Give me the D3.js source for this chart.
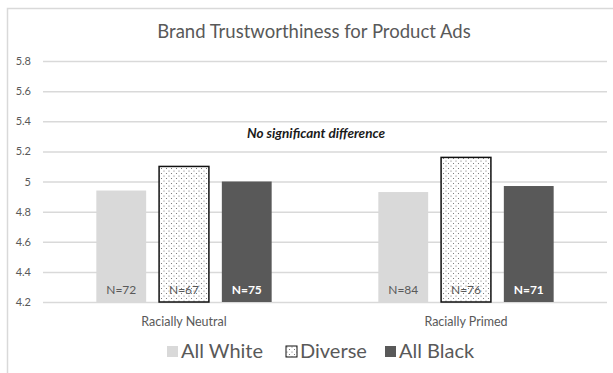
<!DOCTYPE html>
<html>
<head>
<meta charset="utf-8">
<script src="https://cdn.jsdelivr.net/npm/d3@7"></script>
<style>
  body { margin: 0; background: #fff; }
  text { font-family: Lato, "Open Sans", sans-serif; fill: #595959; }
</style>
</head>
<body>
<div id="content"></div>
<script>
let categories = ["Racially Neutral", "Racially Primed"];
let groups = ["All White", "Diverse", "All Black"];
let neutralValues = [4.94, 5.10, 5.00];
let primedValues = [4.93, 5.16, 4.97];
let neutralN = ["N=72", "N=67", "N=75"];
let primedN = ["N=84", "N=76", "N=71"];
let yTicks = [4.2, 4.4, 4.6, 4.8, 5, 5.2, 5.4, 5.6, 5.8];

let rows = [
    {cat: categories[0], values: neutralValues, ns: neutralN},
    {cat: categories[1], values: primedValues, ns: primedN}
];

const width = 613, height = 373;
const plotLeft = 43, plotRight = 607, plotTop = 61, plotBottom = 302;

let svg = d3.select("#content")
    .append("svg")
    .attr("width", width)
    .attr("height", height);

// dotted pattern for the "Diverse" bars
let defs = svg.append("defs");
let pat = defs.append("pattern")
    .attr("id", "dots")
    .attr("patternUnits", "userSpaceOnUse")
    .attr("width", 5)
    .attr("height", 5);
pat.append("rect").attr("width", 5).attr("height", 5).attr("fill", "#fff");
pat.append("circle").attr("cx", 1).attr("cy", 1).attr("r", 0.55).attr("fill", "#666");
pat.append("circle").attr("cx", 3.5).attr("cy", 3.5).attr("r", 0.55).attr("fill", "#666");

// chart frame
svg.append("path")
    .attr("d", "M7.5," + height + " V8.5 H" + width)
    .attr("fill", "none")
    .attr("stroke", "#d9d9d9")
    .attr("stroke-width", 1.5);

let color = d3.scaleOrdinal().domain(groups).range(["#d9d9d9", "url(#dots)", "#595959"]);

const x = d3.scaleBand().domain(categories).range([plotLeft, plotRight]);
const x1 = d3.scaleBand().domain(groups).range([0, x.bandwidth()]).paddingInner(0.206).paddingOuter(0.85);
const y = d3.scaleLinear().domain([4.2, 5.8]).range([plotBottom, plotTop]);

// grid
let yAxis = d3.axisLeft(y)
    .tickValues(yTicks)
    .tickSize(-(plotRight - plotLeft))
    .tickPadding(12)
    .tickFormat(d => d3.format("")(+d.toFixed(1)));

let gy = svg.append("g")
    .attr("transform", "translate(" + plotLeft + ",0)")
    .call(yAxis);
gy.select(".domain").remove();
gy.selectAll("line").attr("stroke", "#d9d9d9").attr("stroke-width", 1.5);
gy.selectAll("text").style("font-size", "11px").attr("fill", "#595959");

// bars
let cat = svg.append("g").selectAll("g")
    .data(rows)
    .enter()
    .append("g")
    .attr("transform", d => "translate(" + x(d.cat) + ",0)");

cat.selectAll("rect")
    .data(d => d.values.map((v, i) => ({g: groups[i], v: v, n: d.ns[i]})))
    .enter()
    .append("rect")
    .attr("x", d => x1(d.g))
    .attr("y", d => y(d.v))
    .attr("width", x1.bandwidth())
    .attr("height", d => y(4.2) - y(d.v))
    .attr("fill", d => color(d.g))
    .attr("stroke", d => d.g == "Diverse" ? "#111" : "none")
    .attr("stroke-width", 1.5);

cat.selectAll(".nlabel")
    .data(d => d.values.map((v, i) => ({g: groups[i], n: d.ns[i]})))
    .enter()
    .append("text")
    .attr("class", "nlabel")
    .attr("x", d => x1(d.g) + x1.bandwidth() / 2)
    .attr("y", plotBottom - 8)
    .attr("text-anchor", "middle")
    .style("font-size", "12px")
    .style("font-weight", d => d.g == "All Black" ? "bold" : "normal")
    .style("fill", d => d.g == "All Black" ? "#fff" : "#595959")
    .text(d => d.n);

// category labels
svg.append("g").selectAll("text")
    .data(categories)
    .enter()
    .append("text")
    .attr("x", d => x(d) + x.bandwidth() / 2)
    .attr("y", 326)
    .attr("text-anchor", "middle")
    .style("font-size", "12.5px")
    .text(d => d);

// title
svg.append("text")
    .attr("x", 314)
    .attr("y", 38)
    .attr("text-anchor", "middle")
    .style("font-size", "18.5px")
    .text("Brand Trustworthiness for Product Ads");

svg.append("text")
    .attr("x", 316)
    .attr("y", 138)
    .attr("text-anchor", "middle")
    .style("font-size", "13.5px")
    .style("font-style", "italic")
    .style("font-weight", "bold")
    .style("fill", "#1a1a1a")
    .text("No significant difference");

// legend
let legendX = [167, 286, 385];
let leg = svg.append("g").selectAll("g")
    .data(groups)
    .enter()
    .append("g")
    .attr("transform", (d, i) => "translate(" + legendX[i] + ",346)");

leg.append("rect")
    .attr("width", 11)
    .attr("height", 11)
    .attr("fill", d => color(d))
    .attr("stroke", d => d == "Diverse" ? "#111" : "none")
    .attr("stroke-width", 1);

leg.append("text")
    .attr("x", 14)
    .attr("y", 12)
    .style("font-size", "20px")
    .text(d => d);
</script>
</body>
</html>
